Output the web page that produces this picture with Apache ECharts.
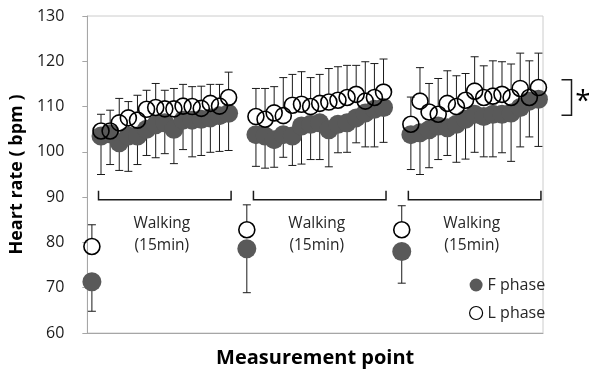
<!DOCTYPE html>
<html>
<head>
<meta charset="utf-8">
<script src="https://cdn.jsdelivr.net/npm/echarts@6/dist/echarts.min.js"></script>
<style>
html,body{margin:0;padding:0;background:#fff;}
#c{width:589px;height:373px;}
</style>
</head>
<body>
<div id="c"></div>
<script>
// ---- data ----
// rest points (before each walking bout)
var restF = [71.3, 78.6, 78.0];
var restFsd = [6.5, 9.7, 7.0];
var restL = [79.1, 82.8, 82.8];
var restLsd = [4.8, 5.5, 5.3];

// walking bout 1..3 (15 points each)
var walk1F = [103.5, 104.0, 102.0, 103.5, 103.5, 105.0, 106.0, 106.4, 105.0, 107.0, 107.0, 107.2, 107.5, 108.0, 108.5];
var walk1Fsd = [8.5, 6.8, 6.1, 7.8, 6.3, 5.8, 7.3, 6.8, 7.6, 6.5, 8.1, 8.0, 7.6, 7.9, 8.2];
var walk1L = [104.6, 104.6, 106.4, 107.5, 107.0, 109.4, 109.8, 109.5, 109.5, 110.1, 110.0, 109.6, 110.7, 110.1, 112.0];
var walk1Lsd = [3.7, 4.6, 5.4, 3.6, 5.5, 4.2, 5.3, 4.1, 4.5, 4.8, 4.4, 4.9, 4.2, 4.8, 5.6];

var walk2F = [103.8, 103.5, 102.7, 103.8, 103.5, 105.7, 106.1, 106.4, 104.9, 106.1, 106.4, 107.5, 108.6, 109.4, 109.8];
var walk2Fsd = [7.0, 7.1, 6.1, 5.0, 6.5, 8.4, 7.8, 8.1, 8.2, 6.3, 6.5, 5.5, 7.5, 8.3, 7.7];
var walk2L = [107.8, 107.2, 108.6, 108.0, 110.3, 110.5, 110.0, 110.7, 111.0, 111.4, 112.0, 112.7, 111.2, 112.0, 113.2];
var walk2Lsd = [6.2, 6.8, 5.8, 8.4, 6.8, 7.2, 6.4, 6.4, 7.4, 7.4, 7.1, 6.4, 8.7, 7.5, 7.3];

var walk3F = [103.8, 104.2, 104.9, 105.7, 105.3, 106.1, 107.2, 108.3, 107.8, 108.3, 108.3, 108.6, 109.8, 111.2, 111.6];
var walk3Fsd = [7.7, 9.2, 8.4, 7.4, 6.1, 8.4, 8.8, 8.4, 8.9, 9.4, 8.5, 10.7, 8.7, 7.9, 10.4];
var walk3L = [106.1, 111.2, 108.8, 108.3, 110.7, 110.0, 111.4, 113.4, 112.0, 112.3, 112.7, 112.0, 114.0, 112.0, 114.2];
var walk3Lsd = [6.0, 7.4, 6.3, 7.9, 7.2, 6.8, 5.9, 7.6, 7.0, 7.8, 7.2, 7.4, 7.8, 8.1, 7.6];

var yTicks = [60, 70, 80, 90, 100, 110, 120, 130];
var seriesNames = ['F phase', 'L phase'];
var boutLabel = 'Walking\n(15min)';
var bracketLevel = [89.4, 91.4];   // bracket line level / end tick top
var boutTextLevel = 81.7;
var sigRange = [108.1, 115.9];     // right-hand significance bracket
var sigMark = '*';

// ---- build the 50-slot category axis: R, W x15, gap, R, W x15, gap, R, W x15 ----
var categories = [], F = [], Fsd = [], L = [], Lsd = [], bouts = [];
function pushPoint(name, f, fs, l, ls) { categories.push(name); F.push(f); Fsd.push(fs); L.push(l); Lsd.push(ls); }
var walks = [[walk1F, walk1Fsd, walk1L, walk1Lsd], [walk2F, walk2Fsd, walk2L, walk2Lsd], [walk3F, walk3Fsd, walk3L, walk3Lsd]];
for (var g = 0; g < 3; g++) {
  if (g > 0) pushPoint('gap' + g, null, null, null, null);
  pushPoint('Rest' + (g + 1), restF[g], restFsd[g], restL[g], restLsd[g]);
  var start = categories.length;
  for (var k = 0; k < 15; k++) pushPoint('W' + (g + 1) + '-' + (k + 1), walks[g][0][k], walks[g][1][k], walks[g][2][k], walks[g][3][k]);
  bouts.push([start, categories.length - 1]);
}

var FONT = 'Open Sans';
var fData = [], lData = [], fErr = [], lErr = [];
for (var i = 0; i < categories.length; i++) {
  fData.push(F[i] == null ? [i, '-'] : [i, F[i]]);
  lData.push(L[i] == null ? [i, '-'] : [i, L[i]]);
  if (F[i] != null) fErr.push([i, F[i], Fsd[i]]);
  if (L[i] != null) lErr.push([i, L[i], Lsd[i]]);
}

function errRender(dir, offset) {
  return function (params, api) {
    var x = api.value(0), m = api.value(1), s = api.value(2);
    var p0 = api.coord([x, m]);
    var p1 = api.coord([x, m + dir * s]);
    var sy = p0[1] - dir * offset;
    var st = { stroke: '#1a1a1a', lineWidth: 1 };
    return {
      type: 'group',
      children: [
        { type: 'line', shape: { x1: p0[0], y1: sy, x2: p0[0], y2: p1[1] }, style: st },
        { type: 'line', shape: { x1: p0[0] - 4, y1: p1[1], x2: p0[0] + 4, y2: p1[1] }, style: st }
      ]
    };
  };
}

function boutRender(params, api) {
  var a = api.value(0), b = api.value(1);
  var pa = api.coord([a, bracketLevel[0]]), pb = api.coord([b, bracketLevel[0]]);
  var top = api.coord([a, bracketLevel[1]])[1];
  var x1 = pa[0] - 2.5, x2 = pb[0] + 2.5, y = pa[1];
  var st = { stroke: '#1a1a1a', lineWidth: 1.5, fill: null };
  var tp = api.coord([(a + b) / 2, boutTextLevel]);
  return {
    type: 'group',
    children: [
      { type: 'polyline', shape: { points: [[x1, top], [x1, y], [x2, y], [x2, top]] }, style: st },
      { type: 'text', x: tp[0] - 3, y: tp[1], style: { text: boutLabel, fontFamily: FONT, fontSize: 15.5, fill: '#262626', align: 'center', verticalAlign: 'middle', lineHeight: 22 } }
    ]
  };
}

var chart = echarts.init(document.getElementById('c'), null, { renderer: 'canvas' });
chart.setOption({
  animation: false,
  backgroundColor: '#fff',
  grid: { left: 87, right: 46, top: 16, bottom: 40, show: true, borderColor: '#cccccc', borderWidth: 1 },
  legend: {
    orient: 'vertical', left: 464, top: 272, itemWidth: 13, itemHeight: 13, itemGap: 12,
    textStyle: { fontFamily: FONT, fontSize: 16, color: '#262626' },
    data: [
      { name: seriesNames[0], icon: 'circle', itemStyle: { color: '#595959', borderWidth: 0 } },
      { name: seriesNames[1], icon: 'circle', itemStyle: { color: '#ffffff', borderColor: '#000', borderWidth: 1.2 } }
    ]
  },
  xAxis: {
    type: 'category', data: categories, boundaryGap: true,
    axisLine: { lineStyle: { color: '#a6a6a6', width: 1 } },
    axisTick: { show: false }, axisLabel: { show: false },
    name: 'Measurement point', nameLocation: 'middle', nameGap: 15,
    nameTextStyle: { fontFamily: FONT, fontWeight: 'bold', fontSize: 20, color: '#000' }
  },
  yAxis: {
    type: 'value', min: yTicks[0], max: yTicks[yTicks.length - 1], interval: 10,
    axisLine: { show: true, lineStyle: { color: '#a6a6a6', width: 1 } },
    axisTick: { show: true, inside: false, length: 5, lineStyle: { color: '#a6a6a6' } },
    splitLine: { show: false },
    axisLabel: { margin: 23, fontFamily: FONT, fontSize: 16, color: '#1a1a1a' },
    name: 'Heart rate ( bpm )', nameLocation: 'middle', nameGap: 53, nameRotate: 90,
    nameTextStyle: { fontFamily: FONT, fontWeight: 'bold', fontSize: 18, color: '#000' }
  },
  series: [
    { name: 'Fbars', type: 'custom', renderItem: errRender(-1, 0), data: fErr, z: 1, silent: true },
    { name: 'Lbars', type: 'custom', renderItem: errRender(1, 8.5), data: lErr, z: 1, silent: true },
    { name: seriesNames[0], type: 'scatter', data: fData, symbol: 'circle', symbolSize: 19,
      itemStyle: { color: '#595959', opacity: 1 }, z: 3 },
    { name: seriesNames[1], type: 'scatter', data: lData, symbol: 'circle', symbolSize: 16,
      itemStyle: { color: 'rgba(255,255,255,0)', borderColor: '#000', borderWidth: 1.6, opacity: 1 }, z: 4 },
    { name: 'bouts', type: 'custom', renderItem: boutRender, data: bouts, z: 2, silent: true, clip: false }
  ]
});

// significance bracket at the right, placed with the y scale
var yTop = chart.convertToPixel({ yAxisIndex: 0 }, sigRange[1]);
var yBot = chart.convertToPixel({ yAxisIndex: 0 }, sigRange[0]);
chart.setOption({
  graphic: [
    { type: 'polyline', shape: { points: [[561.5, yTop], [571.5, yTop], [571.5, yBot], [561.5, yBot]] },
      style: { stroke: '#1a1a1a', lineWidth: 1.5, fill: null } },
    { type: 'text', x: 583, y: (yTop + yBot) / 2 + 5, style: { text: sigMark, fontFamily: FONT, fontSize: 28, fill: '#000', align: 'center', verticalAlign: 'middle' } }
  ]
});
</script>
</body>
</html>
